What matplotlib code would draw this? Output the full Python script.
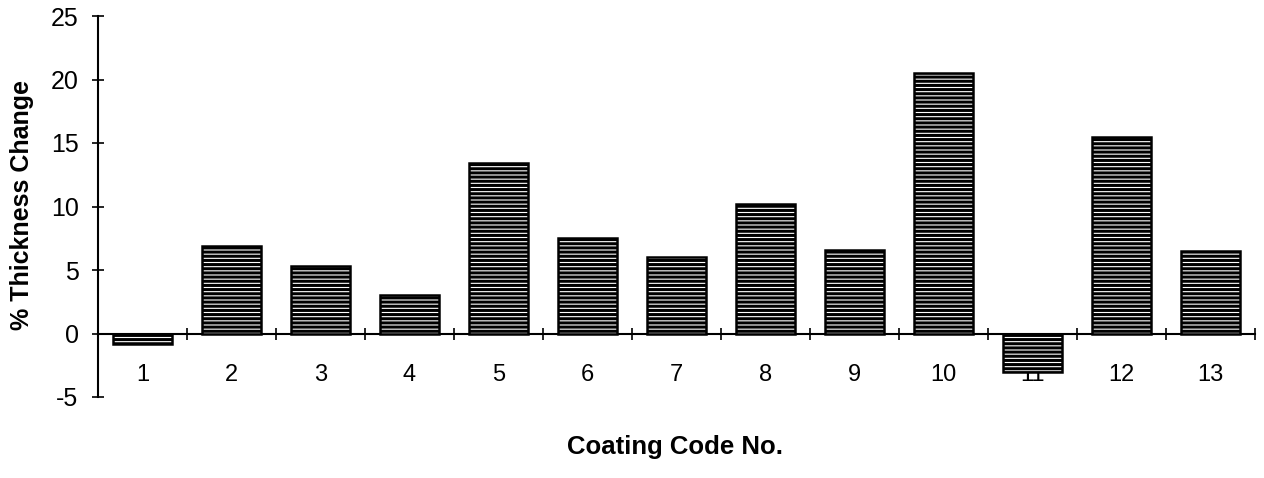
import matplotlib
matplotlib.use("Agg")
import matplotlib.pyplot as plt
import numpy as np

categories = ["1", "2", "3", "4", "5", "6", "7", "8", "9", "10", "11", "12", "13"]
values = [-0.8, 6.9, 5.3, 3.0, 13.4, 7.5, 6.0, 10.2, 6.6, 20.5, -3.0, 15.5, 6.5]
yticks = [-5, 0, 5, 10, 15, 20, 25]

plt.rcParams['font.family'] = ['Liberation Sans', 'DejaVu Sans']
plt.rcParams['hatch.linewidth'] = 2.2

W, H = 1264, 478
fig = plt.figure(figsize=(W / 100, H / 100), dpi=100)
ax = fig.add_axes([98 / W, 1 - 397 / H, (1255 - 98) / W, (397 - 16) / H])

x = np.arange(len(categories))
ax.bar(x, values, width=0.67, facecolor='white', edgecolor='black',
       linewidth=1.8, hatch='----', zorder=3)

ax.set_xlim(-0.5, len(categories) - 0.5)
ax.set_ylim(-5, 25)
ax.set_yticks(yticks)
ax.set_yticklabels([str(v) for v in yticks])
ax.tick_params(axis='y', direction='inout', length=9, width=1.2, pad=9.5,
               labelsize=18)

ax.set_xticks(x)
ax.set_xticklabels(categories)
ax.tick_params(axis='x', which='major', length=0, pad=22, labelsize=17)
ax.set_xticks(np.arange(len(categories)) + 0.5, minor=True)
ax.tick_params(axis='x', which='minor', direction='inout', length=8, width=1.2)
ax.xaxis.set_zorder(0.5)

for s in ['top', 'right']:
    ax.spines[s].set_visible(False)
ax.spines['bottom'].set_position(('data', 0))
ax.spines['bottom'].set_linewidth(1.5)
ax.spines['left'].set_linewidth(1.5)

fig.text(22 / W, 1 - 205 / H, '% Thickness Change', rotation=90, fontsize=18,
         fontweight='bold', ha='center', va='center')
fig.text(675 / W, 1 - 447 / H, 'Coating Code No.', fontsize=18.5,
         fontweight='bold', ha='center', va='center')

fig.savefig('out.png', dpi=100)
